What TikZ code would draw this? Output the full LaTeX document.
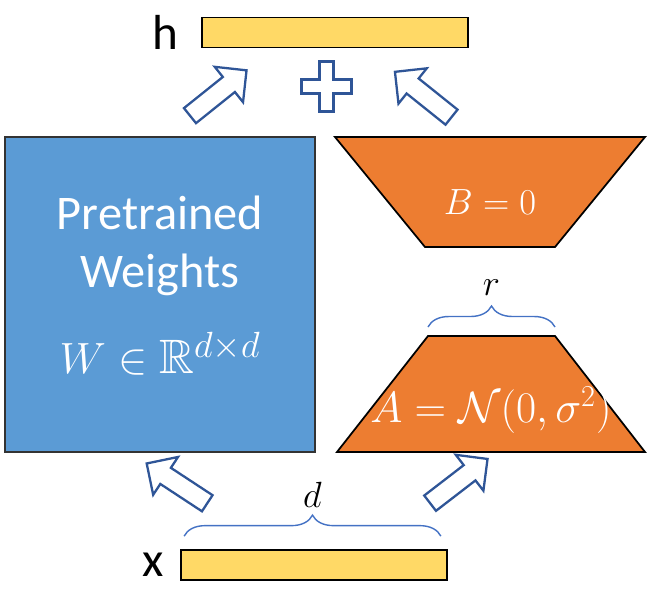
\documentclass[tikz,border=0pt]{standalone}
\usepackage{amsmath}
\usepackage{amssymb}
\usepackage[no-math]{fontspec}
\setmainfont{Carlito}
\usetikzlibrary{shapes.arrows, decorations.pathreplacing, positioning, calc}

\definecolor{wblue}{HTML}{5B9BD5}
\definecolor{loraorange}{HTML}{ED7D31}
\definecolor{vecyellow}{HTML}{FFD966}
\definecolor{arrowblue}{HTML}{2F5597}
\definecolor{bracecol}{HTML}{4472C4}

\begin{document}
\begin{tikzpicture}[
    x=0.02cm, y=-0.02cm,
    % Estilos
    vecbar/.style={rectangle, draw=black, fill=vecyellow, line width=1pt, minimum width=5.32cm, minimum height=0.6cm, inner sep=0pt},
    veclabel/.style={font=\fontsize{28}{30}\selectfont, text=black, inner sep=0pt},
    wbox/.style={rectangle, draw=black!80, fill=wblue, line width=0.8pt, minimum width=6.2cm, minimum height=6.3cm},
    wtext/.style={text=white, align=center, font=\fontsize{27.5}{33}\selectfont},
    lorabox/.style={draw=black, fill=loraorange, line width=1pt},
    loramath/.style={text=white, font=\fontsize{22}{24}\selectfont},
    dimlabel/.style={text=black, font=\fontsize{22}{24}\selectfont},
    dimbrace/.style={draw=bracecol, line width=0.8pt, decorate, decoration={brace, amplitude=0.42cm}},
    blockarrow/.style={single arrow, draw=arrowblue, fill=white, line width=1.3pt, minimum height=1.45cm, inner xsep=0pt, inner ysep=0.17cm, single arrow head extend=0.26cm},
    plusline/.style={draw=arrowblue, fill=white, line width=1.3pt}
]
\useasboundingbox (0,0) rectangle (659,589);

% -------------------------
% SALIDA h (Arriba)
% -------------------------
\node[vecbar] (hbar) at (335,32.5) {};
\node[veclabel, left=0.44cm of hbar] (hlabel) {h};

% Flechas hacia h y suma
\node[blockarrow, rotate=38.7] (arrowW) at (214.5,96) {};
\node[blockarrow, rotate=141.3] (arrowB) at (427,97.5) {};
\coordinate (plus) at (326.5,86.5);
\draw[plusline, shift={(plus)}] (-7,-25) -- (7,-25) -- (7,-7) -- (25,-7) -- (25,7) -- (7,7) -- (7,25) -- (-7,25) -- (-7,7) -- (-25,7) -- (-25,-7) -- (-7,-7) -- cycle;

% -------------------------
% PESOS PREENTRENADOS (Izquierda)
% -------------------------
\node[wbox] (weights) at (160,294.5) {};
\node[wtext] (wlabel) at ($(weights.center)+(0,-9)$) {Pretrained\\Weights\\[16pt]$W \in \mathbb{R}^{d\times d}$};

% -------------------------
% MATRICES LoRA (Derecha)
% -------------------------
\coordinate (btl) at (335,137);
\coordinate (btr) at (645,137);
\coordinate (bbr) at (555,247);
\coordinate (bbl) at (425,247);
\draw[lorabox] (btl) -- (btr) -- (bbr) -- (bbl) -- cycle;
\node[loramath] (bmat) at (490,202) {$B = 0$};

\coordinate (atl) at (428,336);
\coordinate (atr) at (555,336);
\coordinate (abr) at (645,452);
\coordinate (abl) at (337,452);
\draw[lorabox] (atl) -- (atr) -- (abr) -- (abl) -- cycle;
\node[loramath, font=\fontsize{24}{26}\selectfont] (amat) at (491,410) {$A = \mathcal{N}(0,\sigma^2)$};

% Rango r
\draw[dimbrace] ($(atl)+(0,-9)$) -- ($(atr)+(0,-9)$) node[midway, above=0.5cm, dimlabel] (rlabel) {$r$};

% -------------------------
% ENTRADA x (Abajo)
% -------------------------
\node[vecbar] (xbar) at (314,565) {};
\node[veclabel, left=0.32cm of xbar] (xlabel) {x};

% Dimension d
\draw[dimbrace] ($(xbar.north west)+(4,-13)$) -- ($(xbar.north east)+(-7,-13)$) node[midway, above=0.45cm, dimlabel] (dlabel) {$d$};

% Flechas desde x
\node[blockarrow, rotate=146.7] (arrowX) at (181,486) {};
\node[blockarrow, rotate=37.6] (arrowA) at (455,484) {};

\end{tikzpicture}
\end{document}
